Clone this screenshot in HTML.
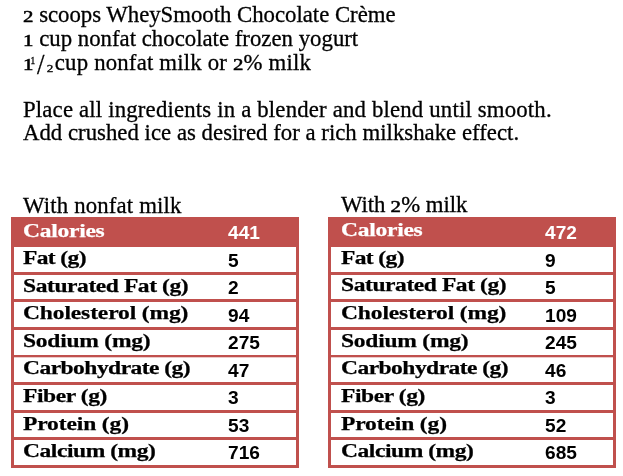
<!DOCTYPE html>
<html lang="en"><head><meta charset="utf-8"><title>WheySmooth Chocolate Crème</title><style>
html,body{margin:0;padding:0;background:#fff;}
body{width:623px;height:476px;position:relative;overflow:hidden;}
svg.g{position:absolute;left:0;top:0;}
.t{position:absolute;white-space:nowrap;font-family:"Liberation Serif", serif;font-weight:normal;font-size:23px;line-height:0;color:#000;letter-spacing:0px;transform-origin:0 0;transform:scaleX(0.99);}
.l{position:absolute;white-space:nowrap;font-family:"Liberation Serif", serif;font-weight:bold;font-size:19.6px;line-height:0;color:#000;letter-spacing:-0.4px;transform-origin:0 0;transform:scaleX(1.2);}
.n{position:absolute;white-space:nowrap;font-family:"Liberation Sans", sans-serif;font-weight:bold;font-size:18.4px;line-height:0;color:#000;letter-spacing:0.0px;transform-origin:0 0;transform:scaleX(1.04);}
.w{color:#fff;}
.os{display:inline-block;font-size:16.2px;transform:scaleX(1.3);transform-origin:0 0;margin-right:2.5px;letter-spacing:0}
.fr1{display:inline-block;font-size:9.5px;position:relative;top:-6.5px;letter-spacing:0;margin-left:-3px}
.frs{display:inline-block;font-size:28.5px;position:relative;top:4px;letter-spacing:0;transform:scaleX(0.95);margin:0 2px 0 1.5px}
.fr2{display:inline-block;font-size:9.8px;position:relative;top:1.5px;letter-spacing:0;transform:scaleX(1.35);transform-origin:0 0;margin-right:-2.5px}
.t{-webkit-text-stroke:0.3px #000;}
.os{-webkit-text-stroke:0.5px #000;}
.l{-webkit-text-stroke:0.25px #000;}
.l.w{-webkit-text-stroke:0.25px #fff;}
</style></head><body>
<svg class="g" width="623" height="476" viewBox="0 0 623 476" fill="#C0504D">
<rect x="11" y="217" width="288" height="30"/>
<rect x="11" y="217" width="3" height="251"/>
<rect x="296" y="217" width="3" height="251"/>
<rect x="11" y="272" width="288" height="3"/>
<rect x="11" y="299" width="288" height="3"/>
<rect x="11" y="327" width="288" height="3"/>
<rect x="11" y="355" width="288" height="2.3"/>
<rect x="11" y="382" width="288" height="3"/>
<rect x="11" y="410" width="288" height="3"/>
<rect x="11" y="437" width="288" height="3"/>
<rect x="11" y="465" width="288" height="3"/>
<rect x="328" y="217" width="288" height="30"/>
<rect x="328" y="217" width="3" height="251"/>
<rect x="613" y="217" width="3" height="251"/>
<rect x="328" y="272" width="288" height="3"/>
<rect x="328" y="299" width="288" height="3"/>
<rect x="328" y="327" width="288" height="3"/>
<rect x="328" y="355" width="288" height="2.3"/>
<rect x="328" y="382" width="288" height="3"/>
<rect x="328" y="410" width="288" height="3"/>
<rect x="328" y="437" width="288" height="3"/>
<rect x="328" y="465" width="288" height="3"/>
</svg>
<div class="t" style="left:23px;top:15px;letter-spacing:-0.016px"><span class="os">2</span> scoops WheySmooth Chocolate Crème</div>
<div class="t" style="left:23px;top:39px;letter-spacing:0.011px"><span class="os">1</span> cup nonfat chocolate frozen yogurt</div>
<div class="t" style="left:23px;top:61px;letter-spacing:0.194px"><span class="os">1</span><span class="fr1">1</span><span class="frs">/</span><span class="fr2">2</span> cup nonfat milk or <span class="os">2</span>% milk</div>
<div class="t" style="left:23px;top:110px;letter-spacing:0.178px">Place all ingredients in a blender and blend until smooth.</div>
<div class="t" style="left:23px;top:133px;letter-spacing:0.016px">Add crushed ice as desired for a rich milkshake effect.</div>
<div class="t" style="left:23px;top:206px;letter-spacing:0.167px">With nonfat milk</div>
<div class="t" style="left:340.5px;top:205px;letter-spacing:-0.096px">With <span class="os">2</span>% milk</div>
<div class="l w" style="left:23.2px;top:231px;letter-spacing:-0.221px">Calories</div>
<div class="l w" style="left:340.7px;top:230px;letter-spacing:-0.221px">Calories</div>
<div class="n w" style="left:228px;top:233px;">441</div>
<div class="n w" style="left:545px;top:233px;">472</div>
<div class="l" style="left:23.2px;top:258px;letter-spacing:-0.526px">Fat (g)</div>
<div class="l" style="left:340.7px;top:257.5px;letter-spacing:-0.526px">Fat (g)</div>
<div class="n" style="left:228px;top:260.5px;">5</div>
<div class="n" style="left:545px;top:260.5px;">9</div>
<div class="l" style="left:23.2px;top:285.5px;letter-spacing:-0.352px">Saturated Fat (g)</div>
<div class="l" style="left:340.7px;top:285px;letter-spacing:-0.352px">Saturated Fat (g)</div>
<div class="n" style="left:228px;top:288px;">2</div>
<div class="n" style="left:545px;top:288px;">5</div>
<div class="l" style="left:23.2px;top:312.5px;letter-spacing:-0.111px">Cholesterol (mg)</div>
<div class="l" style="left:340.7px;top:312.5px;letter-spacing:-0.111px">Cholesterol (mg)</div>
<div class="n" style="left:228px;top:315.5px;">94</div>
<div class="n" style="left:545px;top:315.5px;">109</div>
<div class="l" style="left:23.2px;top:340.5px;letter-spacing:-0.192px">Sodium (mg)</div>
<div class="l" style="left:340.7px;top:340.5px;letter-spacing:-0.192px">Sodium (mg)</div>
<div class="n" style="left:228px;top:343px;">275</div>
<div class="n" style="left:545px;top:343px;">245</div>
<div class="l" style="left:23.2px;top:367.5px;letter-spacing:-0.444px">Carbohydrate (g)</div>
<div class="l" style="left:340.7px;top:367.5px;letter-spacing:-0.444px">Carbohydrate (g)</div>
<div class="n" style="left:228px;top:370.5px;">47</div>
<div class="n" style="left:545px;top:370.5px;">46</div>
<div class="l" style="left:23.2px;top:395.5px;letter-spacing:-0.348px">Fiber (g)</div>
<div class="l" style="left:340.7px;top:395.5px;letter-spacing:-0.348px">Fiber (g)</div>
<div class="n" style="left:228px;top:398px;">3</div>
<div class="n" style="left:545px;top:398px;">3</div>
<div class="l" style="left:23.2px;top:424px;letter-spacing:-0.108px">Protein (g)</div>
<div class="l" style="left:340.7px;top:423.5px;letter-spacing:-0.108px">Protein (g)</div>
<div class="n" style="left:228px;top:425.5px;">53</div>
<div class="n" style="left:545px;top:425.5px;">52</div>
<div class="l" style="left:23.2px;top:450.5px;letter-spacing:-0.369px">Calcium (mg)</div>
<div class="l" style="left:340.7px;top:450.5px;letter-spacing:-0.369px">Calcium (mg)</div>
<div class="n" style="left:228px;top:453px;">716</div>
<div class="n" style="left:545px;top:453px;">685</div>
</body></html>
